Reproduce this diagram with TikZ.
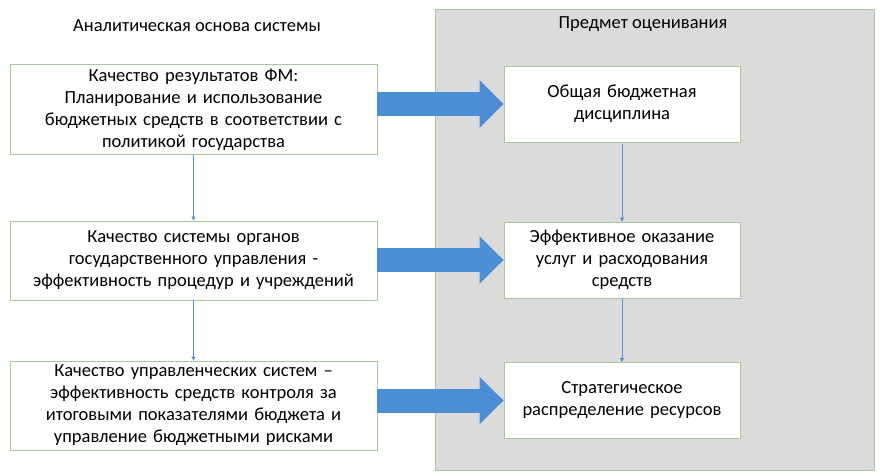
\documentclass[tikz,border=0pt]{standalone}
\usepackage{fontspec}
\setmainfont{Carlito}
\usetikzlibrary{arrows.meta}
\definecolor{boxgreen}{HTML}{A9C99B}
\definecolor{panelgray}{HTML}{DBDBDB}
\definecolor{arrowblue}{HTML}{4A8FD6}
\definecolor{lineblue}{HTML}{5B8FD0}
\tikzset{
  box/.style={draw=boxgreen, fill=white, line width=0.8pt, align=center,
    inner sep=4pt, font=\fontsize{18.5}{22}\selectfont},
  leftbox/.style={box, text width=359pt, minimum height=#1},
  rightbox/.style={box, text width=228pt, minimum height=76pt},
  heading/.style={font=\fontsize{18.5}{22}\selectfont},
  bigarrow/.style={draw=arrowblue, line width=24pt,
    -{Triangle[length=24pt, width=46pt]}},
  smallarrow/.style={draw=lineblue, line width=0.7pt,
    -{Triangle[length=4pt, width=4pt]}}
}
\begin{document}
\begin{tikzpicture}[x=1pt, y=-1pt]
      \useasboundingbox (0,0) rectangle (886,476);
      \draw[draw=boxgreen, fill=panelgray, line width=0.8pt] (435,9) rectangle (874,470);
      \draw
        (197,26) node[heading] (t1){Аналитическая основа системы}
        (643,24) node[heading] (t2){Предмет оценивания}
        (193.5,109.5) node[leftbox=89pt] (q1){Качество результатов ФМ:\\Планирование и использование\\бюджетных средств в соответствии с\\политикой государства}
        (193.5,260.5) node[leftbox=79pt] (q2){Качество системы органов\\государственного управления -\\эффективность процедур и учреждений}
        (193.5,405.5) node[leftbox=85pt] (q3){Качество управленческих систем –\\эффективность средств контроля за\\итоговыми показателями бюджета и\\управление бюджетными рисками}
        (622,104) node[rightbox] (p1){Общая бюджетная\\дисциплина}
        (622,260) node[rightbox] (p2){Эффективное оказание\\услуг и расходования\\средств}
        (622,400.5) node[rightbox] (p3){Стратегическое\\распределение ресурсов};
      \begin{scope}[smallarrow]
        \draw (q1) to (q2);
        \draw (q2) to (q3);
        \draw[shorten <=2pt] (p1) to (p2);
        \draw (p2) to (p3);
      \end{scope}
      \begin{scope}[bigarrow]
        \draw (q1.east |- p1.west) to (p1.west);
        \draw (q2.east |- p2.west) to (p2.west);
        \draw (q3.east |- p3.west) to (p3.west);
      \end{scope}
    \end{tikzpicture}
\end{document}
